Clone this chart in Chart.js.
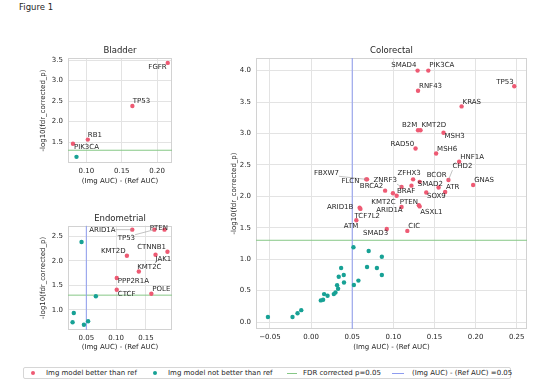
<!DOCTYPE html>
<html>
<head>
<meta charset="utf-8">
<script src="https://cdn.jsdelivr.net/npm/chart.js@4.4.0/dist/chart.umd.min.js"></script>
<style>
    body { margin: 0; width: 553px; height: 390px; background: #fff; position: relative; overflow: hidden;
           font-family: "DejaVu Sans", sans-serif; color: #262626; }
    canvas.panel { position: absolute; }
    #fig-title { position: absolute; left: 19px; top: 2px; font-size: 8.5px; }
    #legend { position: absolute; left: 23px; top: 367px; width: 488px; height: 12px; box-sizing: border-box;
              border: 1px solid #d6d6d6; border-radius: 2px; font-size: 7px; }
    #legend .txt { position: absolute; top: 0; line-height: 10px; white-space: nowrap; }
    #legend .dot { position: absolute; top: 3px; width: 4px; height: 4px; border-radius: 50%; }
    #legend .bar { position: absolute; top: 5px; height: 1px; }
</style>
</head>
<body>
<div id="fig-title">Figure 1</div>
<canvas id="bladder" class="panel" width="200" height="150" style="left:0;top:40px"></canvas>
<canvas id="endometrial" class="panel" width="200" height="160" style="left:0;top:200px"></canvas>
<canvas id="colorectal" class="panel" width="353" height="320" style="left:200px;top:40px"></canvas>
<div id="legend"></div>

<script>
// Datos: (Img AUC) - (Ref AUC) y -log10(fdr_corrected_p)

// Bladder
const bladderGenes = ['FGFR', 'TP53', 'RB1', 'PIK3CA'];
const bladderDeltaAuc = [0.215, 0.165, 0.102, 0.081];
const bladderNegLogP = [3.43, 2.38, 1.56, 1.46];
const bladderOtherDeltaAuc = [0.086];
const bladderOtherNegLogP = [1.14];
const bladderXTicks = [0.10, 0.15, 0.20];
const bladderYTicks = [1.5, 2.0, 2.5, 3.0, 3.5];

// Endometrial
const endoGenes = ['ARID1A', 'TP53', 'PTEN', 'CTNNB1', 'JAK1', 'KMT2D', 'KMT2C', 'PPP2R1A', 'CTCF', 'POLE'];
const endoDeltaAuc = [0.127, 0.164, 0.181, 0.186, 0.166, 0.118, 0.138, 0.101, 0.101, 0.159];
const endoNegLogP = [2.63, 2.63, 2.63, 2.18, 2.12, 2.10, 1.78, 1.65, 1.41, 1.33];
const endoOtherDeltaAuc = [0.042, 0.066, 0.029, 0.027, 0.046, 0.053];
const endoOtherNegLogP = [2.38, 1.28, 0.94, 0.75, 0.70, 0.77];
const endoXTicks = [0.05, 0.10, 0.15];
const endoYTicks = [1.0, 1.5, 2.0, 2.5];

// Colorectal
const crcGenes = ['SMAD4', 'PIK3CA', 'TP53', 'RNF43', 'KRAS', 'B2M', 'KMT2D', 'MSH3', 'RAD50', 'MSH6',
    'HNF1A', 'CHD2', 'GNAS', 'ZFHX3', 'BCOR', 'SMAD2', 'ZNRF3', 'BRAF', 'BRCA2', 'KMT2C', 'ATR', 'SOX9', '',
    'ARID1A', 'PTEN', 'ASXL1', 'FBXW7', 'FLCN', 'ARID1B', 'TCF7L2', 'ATM', 'SMAD3', 'CIC'];
const crcDeltaAuc = [0.1295, 0.1425, 0.247, 0.130, 0.183, 0.130, 0.133, 0.161, 0.127, 0.152,
    0.180, 0.167, 0.197, 0.124, 0.132, 0.122, 0.110, 0.104, 0.090, 0.0995, 0.155, 0.140, 0.163,
    0.110, 0.131, 0.132, 0.067, 0.068, 0.059, 0.060, 0.055, 0.092, 0.117];
const crcNegLogP = [4.00, 4.00, 3.75, 3.68, 3.43, 3.05, 3.05, 3.01, 2.76, 2.68,
    2.55, 2.26, 2.18, 2.27, 2.23, 2.17, 2.15, 2.01, 2.09, 2.05, 2.14, 2.06, 2.07,
    1.83, 1.86, 1.84, 2.27, 2.27, 1.82, 1.80, 1.62, 1.48, 1.45];
const crcOtherDeltaAuc = [0.0515, 0.070, 0.086, 0.0365, 0.068, 0.080, 0.0336, 0.0397, 0.086, 0.040,
    0.0575, 0.052, 0.0316, 0.0328, 0.0296, 0.0276, 0.0158, 0.020, 0.0146, 0.0118, -0.012, -0.0525, -0.0226, -0.0165];
const crcOtherNegLogP = [1.19, 1.13, 1.04, 0.86, 0.875, 0.86, 0.72, 0.75, 0.75, 0.63,
    0.66, 0.59, 0.585, 0.53, 0.47, 0.445, 0.445, 0.42, 0.355, 0.345, 0.19, 0.08, 0.08, 0.14];
const crcXTicks = [-0.05, 0.00, 0.05, 0.10, 0.15, 0.20, 0.25];
const crcYTicks = [0.0, 0.5, 1.0, 1.5, 2.0, 2.5, 3.0, 3.5, 4.0];

// Umbrales de referencia
const FDR_P = 0.05;
const AUC_DELTA = 0.05;

const seriesNames = ['Img model better than ref', 'Img model not better than ref',
    'FDR corrected p=0.05', '(Img AUC) - (Ref AUC) =0.05'];

const colors = {
    better: '#ee5a73',
    worse: '#17a195',
    fdr: '#86c886',
    auc: '#8e9cf0',
    grid: '#e3e3e3',
    frame: '#d2d2d2',
    text: '#262626'
};

Chart.defaults.font.family = '"DejaVu Sans", sans-serif';
Chart.defaults.color = colors.text;

function toPoints(xs, ys) {
    return xs.map(function(v, i) { return { x: v, y: ys[i] }; });
}

/**
 * Líneas de referencia y marco del área de gráfico
 */
const refLines = {
    id: 'refLines',
    beforeDatasetsDraw(chart) {
        const { ctx, chartArea: a, scales: { x, y } } = chart;
        ctx.save();
        ctx.strokeStyle = colors.frame;
        ctx.lineWidth = 1;
        ctx.strokeRect(Math.round(a.left) + 0.5, Math.round(a.top) + 0.5,
            Math.round(a.width) - 1, Math.round(a.height) - 1);
        ctx.beginPath();
        ctx.rect(a.left, a.top, a.width, a.height);
        ctx.clip();
        const py = y.getPixelForValue(-Math.log10(FDR_P));
        ctx.strokeStyle = colors.fdr;
        ctx.beginPath();
        ctx.moveTo(a.left, py);
        ctx.lineTo(a.right, py);
        ctx.stroke();
        if (AUC_DELTA >= x.min && AUC_DELTA <= x.max) {
            const px = x.getPixelForValue(AUC_DELTA);
            ctx.strokeStyle = colors.auc;
            ctx.beginPath();
            ctx.moveTo(px, a.top);
            ctx.lineTo(px, a.bottom);
            ctx.stroke();
        }
        ctx.restore();
    }
};

/**
 * Título centrado sobre el área de datos (no sobre todo el canvas)
 */
function panelTitle(text) {
    return {
        id: 'panelTitle',
        afterDraw(chart) {
            const { ctx, chartArea: a } = chart;
            ctx.save();
            ctx.font = '8.5px "DejaVu Sans"';
            ctx.fillStyle = colors.text;
            ctx.textAlign = 'center';
            ctx.textBaseline = 'middle';
            ctx.fillText(text, (a.left + a.right) / 2, a.top - 7);
            ctx.restore();
        }
    };
}

/**
 * Etiquetas de genes (con línea guía opcional)
 */
function geneLabels(names, offsets, leaders) {
    return {
        id: 'geneLabels',
        afterDatasetsDraw(chart) {
            const ctx = chart.ctx;
            const meta = chart.getDatasetMeta(0);
            ctx.save();
            ctx.font = '7px "DejaVu Sans"';
            ctx.textBaseline = 'middle';
            ctx.textAlign = 'left';
            names.forEach(function(name, i) {
                if (!name) return;
                const pt = meta.data[i];
                const off = offsets[name] || [1, -5];
                const tx = pt.x + off[0];
                const ty = pt.y + off[1];
                if (leaders.indexOf(name) >= 0) {
                    const w = ctx.measureText(name).width;
                    const cx = Math.min(Math.max(pt.x, tx), tx + w);
                    const cy = Math.min(Math.max(pt.y, ty - 3.5), ty + 3.5);
                    ctx.strokeStyle = '#9a9a9a';
                    ctx.lineWidth = 0.6;
                    ctx.beginPath();
                    ctx.moveTo(cx, cy);
                    ctx.lineTo(pt.x, pt.y);
                    ctx.stroke();
                }
                ctx.fillStyle = colors.text;
                ctx.fillText(name, tx, ty);
            });
            ctx.restore();
        }
    };
}

function buildPanel(id, p) {
    return new Chart(document.getElementById(id), {
        type: 'scatter',
        data: {
            datasets: [{
                label: seriesNames[0],
                data: toPoints(p.x, p.y),
                backgroundColor: colors.better,
                borderWidth: 0,
                pointRadius: 2.2
            }, {
                label: seriesNames[1],
                data: toPoints(p.ox, p.oy),
                backgroundColor: colors.worse,
                borderWidth: 0,
                pointRadius: 2.2
            }]
        },
        options: {
            responsive: false,
            animation: false,
            devicePixelRatio: 1,
            layout: { padding: p.padding },
            plugins: {
                legend: { display: false },
                tooltip: { enabled: false },
                title: { display: false }
            },
            scales: {
                x: {
                    type: 'linear',
                    min: p.xMin,
                    max: p.xMax,
                    afterBuildTicks: function(s) { s.ticks = p.xTicks.map(function(v) { return { value: v }; }); },
                    afterFit: function(s) { s.height = p.xAxisH; },
                    grid: { color: colors.grid, drawTicks: false },
                    border: { display: false },
                    ticks: {
                        font: { size: 7 },
                        padding: 4,
                        maxRotation: 0,
                        autoSkip: false,
                        callback: function(v) { return v.toFixed(2).replace('-', '\u2212'); }
                    },
                    title: {
                        display: true,
                        text: '(Img AUC) - (Ref AUC)',
                        font: { size: 7 },
                        padding: { top: 0, bottom: p.xTitlePad }
                    }
                },
                y: {
                    type: 'linear',
                    min: p.yMin,
                    max: p.yMax,
                    afterBuildTicks: function(s) { s.ticks = p.yTicks.map(function(v) { return { value: v }; }); },
                    afterFit: function(s) { s.width = p.yAxisW; },
                    grid: { color: colors.grid, drawTicks: false },
                    border: { display: false },
                    ticks: {
                        font: { size: 7 },
                        padding: 5,
                        callback: function(v) { return v.toFixed(1); }
                    },
                    title: {
                        display: true,
                        text: '-log10(fdr_corrected_p)',
                        font: { size: 7 },
                        padding: { top: p.yTitlePad, bottom: 0 }
                    }
                }
            }
        },
        plugins: [refLines, geneLabels(p.genes, p.offsets, p.leaders), panelTitle(p.title)]
    });
}

buildPanel('bladder', {
    title: 'Bladder',
    genes: bladderGenes, x: bladderDeltaAuc, y: bladderNegLogP,
    ox: bladderOtherDeltaAuc, oy: bladderOtherNegLogP,
    xTicks: bladderXTicks, yTicks: bladderYTicks,
    xMin: 0.074, xMax: 0.221, yMin: 0.99, yMax: 3.55,
    padding: { top: 18, right: 28, bottom: 0, left: 0 },
    yAxisW: 68, xAxisH: 27, yTitlePad: 38.8, xTitlePad: 4.8,
    offsets: { FGFR: [-19.4, 4], TP53: [0.3, -5.3], RB1: [0, -4.4], PIK3CA: [1, 3.7] },
    leaders: []
});

buildPanel('endometrial', {
    title: 'Endometrial',
    genes: endoGenes, x: endoDeltaAuc, y: endoNegLogP,
    ox: endoOtherDeltaAuc, oy: endoOtherNegLogP,
    xTicks: endoXTicks, yTicks: endoYTicks,
    xMin: 0.0193, xMax: 0.1936, yMin: 0.594, yMax: 2.71,
    padding: { top: 25.7, right: 28, bottom: 0, left: 0 },
    yAxisW: 68, xAxisH: 30, yTitlePad: 38.8, xTitlePad: 9.1,
    offsets: {
        ARID1A: [-43, 0.3], TP53: [-36.7, 8.6], PTEN: [-14.7, -1.4], CTNNB1: [-30.3, -4.7],
        JAK1: [0, 4.3], KMT2D: [-26, -4.7], KMT2C: [-1.6, -4.4], PPP2R1A: [1, 3.7],
        CTCF: [1, 4.3], POLE: [1, -4.7]
    },
    leaders: ['ARID1A', 'TP53']
});

buildPanel('colorectal', {
    title: 'Colorectal',
    genes: crcGenes, x: crcDeltaAuc, y: crcNegLogP,
    ox: crcOtherDeltaAuc, oy: crcOtherNegLogP,
    xTicks: crcXTicks, yTicks: crcYTicks,
    xMin: -0.067, xMax: 0.2625, yMin: -0.11, yMax: 4.2,
    padding: { top: 18, right: 26, bottom: 0, left: 0 },
    yAxisW: 56, xAxisH: 31, yTitlePad: 29.5, xTitlePad: 8.8,
    offsets: {
        SMAD4: [-26.3, -5], PIK3CA: [1, -5], TP53: [-18, -4.6], RNF43: [1, -4.7], KRAS: [1, -4.7],
        B2M: [-16, -4.7], KMT2D: [1, -4.7], MSH3: [1, 3.7], RAD50: [-25, -4.7], MSH6: [1, -4.7],
        HNF1A: [1, -4.7], CHD2: [4, -13.3], GNAS: [1, -5], ZFHX3: [-15.7, -6.6], BCOR: [7, -6.7],
        SMAD2: [6.3, -1.8], ZNRF3: [-28, -6.3], BRAF: [0.4, -4.3], BRCA2: [-25.3, -4],
        KMT2C: [-21.6, 8.7], ATR: [7.4, -0.6], SOX9: [0.7, 3.7], ARID1A: [-25.3, 3.4],
        PTEN: [-19, -3], ASXL1: [0.5, 6], FBXW7: [-52.3, -6.6], FLCN: [-25.6, 1.4],
        ARID1B: [-32.7, -0.3], TCF7L2: [-6, 7], ATM: [-12.7, 5.7], SMAD3: [-23.7, 3.7], CIC: [1, -4.7]
    },
    leaders: ['FBXW7', 'ZNRF3', 'CHD2']
});

// Leyenda común en la parte inferior
(function buildLegend() {
    const el = document.getElementById('legend');
    const items = [
        { kind: 'dot', color: colors.better, mark: 7, text: 22 },
        { kind: 'dot', color: colors.worse, mark: 129, text: 144 },
        { kind: 'bar', color: colors.fdr, mark: 263, width: 10, text: 279 },
        { kind: 'bar', color: colors.auc, mark: 368, width: 12, text: 388 }
    ];
    items.forEach(function(it, i) {
        const m = document.createElement('span');
        m.className = it.kind;
        m.style.left = it.mark + 'px';
        m.style.background = it.color;
        if (it.width) m.style.width = it.width + 'px';
        el.appendChild(m);
        const t = document.createElement('span');
        t.className = 'txt';
        t.style.left = it.text + 'px';
        t.textContent = seriesNames[i];
        el.appendChild(t);
    });
})();
</script>
</body>
</html>
